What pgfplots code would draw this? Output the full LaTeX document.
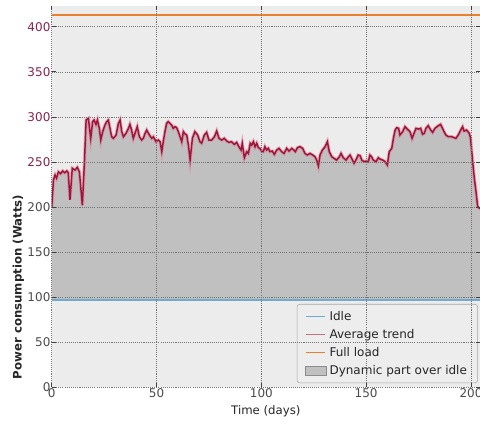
\documentclass[border=0pt]{standalone}
\usepackage{pgfplots}
\pgfplotsset{compat=1.18}
\usepgfplotslibrary{fillbetween}
\usepackage{fontspec}
\setmainfont{DejaVu Sans}
\definecolor{bgc}{RGB}{236,236,236}
\definecolor{fillc}{RGB}{192,192,192}
\definecolor{trendc}{RGB}{155,22,58}
\definecolor{haloc}{RGB}{225,120,145}
\definecolor{idlec}{RGB}{112,170,208}
\definecolor{fullc}{RGB}{232,128,48}
\definecolor{mar}{RGB}{140,35,70}
\definecolor{tickc}{RGB}{75,75,75}
\pgfplotstableread{
x y
0 199
0.8 230
1.6 235.5
2.3 232
3.2 239
4.2 237
5.2 240
6.2 238
7.2 240
7.9 238
8.7 208
9.8 243
11.1 241
12.2 244
13.2 239
14.6 202
15.6 250
16.4 296.5
17.5 298.4
18.6 276.2
19.5 294.7
20.2 296.5
21.1 291.7
21.8 296.5
22.7 287.3
23.4 274.3
24.3 283.6
25.4 291.0
26.2 294.7
27.0 296.5
27.8 287.3
28.6 278.0
29.4 276.2
30.7 279.9
31.8 292.8
32.6 296.5
33.4 283.6
34.2 278.0
35.4 281.7
36.6 287.3
37.3 291.7
38.1 285.4
38.9 276.2
39.7 281.7
40.8 289.1
41.8 278.0
42.9 274.3
43.7 276.2
44.5 281.7
45.3 285.4
46.6 279.9
47.7 276.2
48.5 278.0
49.7 272.5
50.9 274.3
51.7 272.5
52.5 261.4
53.2 272.5
54.0 283.6
54.8 292.8
55.6 294.7
56.4 292.8
57.2 291.0
58.0 287.3
58.8 289.1
59.6 288.0
60.4 283.6
61.2 278.0
62.0 272.5
62.8 283.6
63.6 281
64.4 279.9
65.2 268.8
66.0 252.1
67.1 276.2
68.3 283.6
69.6 279.9
70.7 272.5
71.5 270.7
72.8 279.9
73.9 282.8
75.0 274.3
76.3 274.3
77.6 278.0
78.7 284.3
79.8 276.2
81.1 274.3
82.3 276.2
83.5 273.2
84.6 271.7
85.8 272.5
87.1 269.5
88.2 271.7
89.3 266.9
90.3 263.2
90.9 270.7
91.9 254.7
93.0 261.4
93.8 259.5
94.7 270.7
95.4 268.8
96.2 272.5
97.0 266.9
97.8 270.7
98.6 265.8
99.3 265.1
100.1 262.1
100.9 261.4
101.7 266.9
102.5 263.2
103.3 265.1
104.1 261.4
105.2 262.1
106.2 258.4
107.3 263.2
108.4 265.1
109.7 261.4
110.8 259.5
112.1 265.1
113.2 262.1
114.5 265.1
115.5 263.2
116.2 261.4
117.2 265.8
118.4 267.0
119.7 265.1
120.8 259.5
121.9 257.7
123.2 259.5
124.5 257.7
125.6 255.8
126.4 252.1
127.2 245.5
128.0 257.7
129.1 263.2
130.4 266.9
131.5 272.5
132.4 261.4
133.6 255.8
134.7 254.0
135.9 252.1
137.2 255.8
138.0 259.5
139.1 254.7
140.4 252.1
141.5 255.8
142.3 257.7
143.1 254.0
144.2 248.5
145.1 252.1
146.2 257.7
147.1 257.0
147.9 252.1
149.0 250.3
150.0 251.0
151.0 250.3
151.8 257.7
152.6 255.8
153.4 252.1
154.7 250.3
155.8 254.7
156.6 253.2
157.9 252.1
159.0 250.3
160.1 246.6
161.0 261.4
162.2 265.1
163.0 276.2
163.8 285.4
164.6 288.0
165.5 287.3
166.1 279.9
167.4 283.6
168.5 289.1
169.6 286.5
170.9 283.6
171.9 276.2
172.8 281.7
173.8 287.3
174.9 286.5
176.0 287.3
176.9 280.7
177.7 281.7
178.5 287.3
179.6 290.2
180.8 285.4
181.7 282.8
182.8 287.3
184.4 290.2
185.5 291.7
186.8 285.4
188.0 279.9
189.2 278.0
190.8 278.0
192.8 276.2
193.9 279.9
195.1 285.4
196.0 289.1
196.7 284.3
197.9 285.4
199.2 281.7
199.8 276.2
200.8 250.3
201.6 231.8
202.4 217.0
203.2 200.4
204.0 198.6
205.0 198.0
}\trend
\pgfplotstableread{
x y
0 97
205 97
}\idle
\pgfplotstableread{
x y
0 413
205 413
}\full
\begin{document}
\begin{tikzpicture}
\begin{axis}[
  name=ax,
  scale only axis,
  width=321.2pt, height=286pt,
  xmin=0, xmax=204.3, ymin=0, ymax=423,
  axis background/.style={fill=bgc},
  axis line style={draw=none},
  axis on top,
  grid=major,
  major grid style={black!55, dash pattern=on 0.8pt off 0.8pt, line width=0.4pt},
  xtick={0,50,100,150,200},
  ytick={0,50,100,150,200,250,300,350,400},
  yticklabels={0,50,100,150,200,\textcolor{mar}{250},\textcolor{mar}{300},\textcolor{mar}{350},\textcolor{mar}{400}},
  major tick length=3pt,
  tick style={black!75, line width=0.5pt},
  tick align=inside,
  /pgf/number format/assume math mode=true,
  ticklabel style={font=\fontsize{9}{10}\selectfont, text=tickc},
  yticklabel style={inner sep=0.8pt},
  xticklabel style={inner sep=1pt},
  xlabel={Time (days)},
  xlabel style={font=\fontsize{8.8}{10}\selectfont, text=black!85, yshift=-1pt},
  ylabel={Power consumption (Watts)},
  every axis y label/.style={at={(rel axis cs:0,0.263)}, xshift=-25pt, rotate=90, anchor=center, font=\bfseries\fontsize{8.8}{10}\selectfont, text=black!85},
  legend cell align=left,
  legend style={at={(rel axis cs:0.995,0.011)}, anchor=south east, draw=black!35, fill=bgc!95!white, rounded corners=2pt, font=\fontsize{9}{10.5}\selectfont, text=black!85, row sep=1.2pt, inner xsep=6pt, inner ysep=3pt},
  legend image code/.code={\draw[#1] (0cm,0cm) -- (0.5cm,0cm);},
]
\addplot[draw=none, name path=tr, forget plot] table[x=x,y=y] {\trend};
\addplot[draw=none, name path=id, forget plot] table[x=x,y=y] {\idle};
\addplot[fillc, forget plot] fill between[of=tr and id];
\addplot[idlec, line width=1pt, forget plot] table[x=x,y=y] {\idle};
\addplot[fullc, line width=1pt, forget plot] table[x=x,y=y] {\full};
\addplot[haloc, opacity=0.6, line width=2.4pt, forget plot] table[x=x,y=y] {\trend};
\addplot[trendc, line width=1.1pt, forget plot] table[x=x,y=y] {\trend};
\addlegendimage{idlec, line width=1pt, sharp corners}
\addlegendentry{Idle}
\addlegendimage{trendc!60!white, line width=1pt, sharp corners}
\addlegendentry{Average trend}
\addlegendimage{fullc, line width=1pt, sharp corners}
\addlegendentry{Full load}
\addlegendimage{legend image code/.code={\draw[fill=fillc, draw=black!45, sharp corners] (0cm,-0.12cm) rectangle (0.55cm,0.12cm);}}
\addlegendentry{Dynamic part over idle}
\end{axis}
\pgfresetboundingbox
\useasboundingbox ([xshift=-38.8pt,yshift=-25.3pt]ax.south west) rectangle ([yshift=4.5pt]ax.north east);
\end{tikzpicture}
\end{document}
